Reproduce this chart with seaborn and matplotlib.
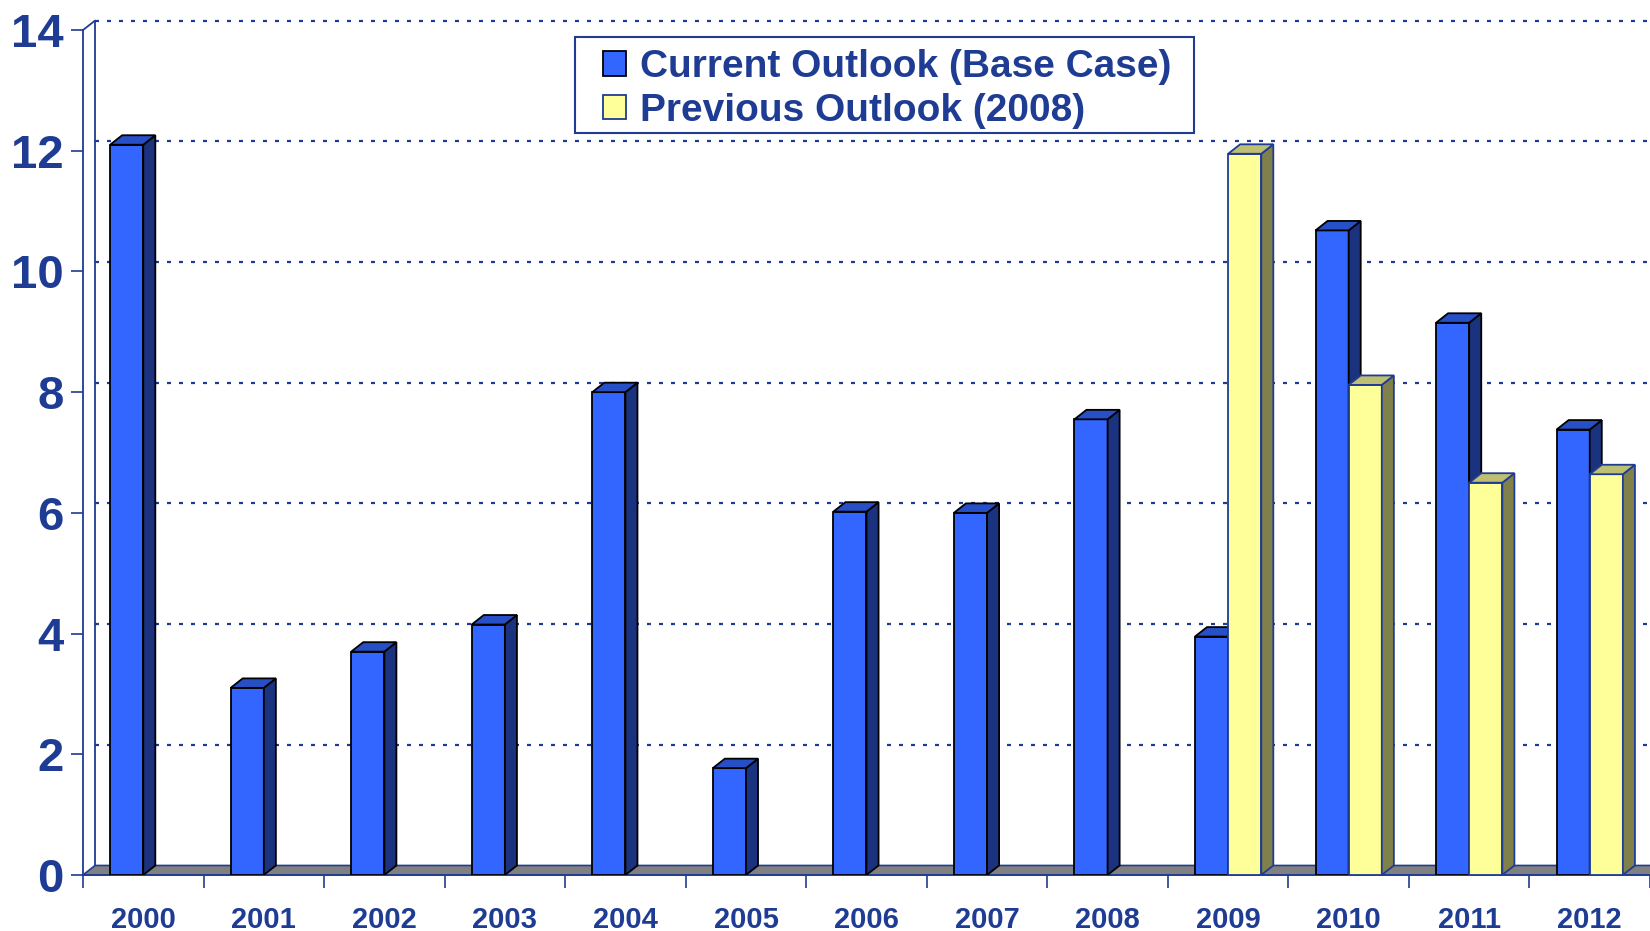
import pandas as pd
import matplotlib
matplotlib.use("Agg")
import matplotlib.pyplot as plt
import seaborn as sns
from matplotlib.patches import Polygon, Patch, Rectangle

# data
years = ['2000', '2001', '2002', '2003', '2004', '2005', '2006',
         '2007', '2008', '2009', '2010', '2011', '2012']
current = [12.1, 3.1, 3.7, 4.15, 8.0, 1.77, 6.02, 6.0, 7.55, 3.95, 10.68, 9.15, 7.38]
prev_years = ['2009', '2010', '2011', '2012']
previous = [11.95, 8.12, 6.5, 6.64]
series = ['Current Outlook (Base Case)', 'Previous Outlook (2008)']
yticks = [0, 2, 4, 6, 8, 10, 12, 14]

TXT = '#1F3C94'
face = {series[0]: '#3366FF', series[1]: '#FFFF99'}
side = {series[0]: '#1B327E', series[1]: '#80804A'}
top = {series[0]: '#2750C6', series[1]: '#BFBF72'}
edge = {series[0]: 'black', series[1]: TXT}


def main():
    df = pd.concat([
        pd.DataFrame({'year': years, 'series': series[0], 'value': current}),
        pd.DataFrame({'year': prev_years, 'series': series[1], 'value': previous}),
    ])

    sns.set_style('white')
    plt.rcParams['font.family'] = ['Liberation Sans', 'DejaVu Sans']
    plt.rcParams['font.weight'] = 'bold'

    fig = plt.figure(figsize=(16.5, 9.31), dpi=100)
    ax = fig.add_axes([0.0503, 0.0602, 0.9497, 0.9302])

    sns.barplot(data=df, x='year', y='value', hue='series', hue_order=series,
                order=years, palette=face, saturation=1, width=0.55, gap=0,
                errorbar=None, legend=False, ax=ax, zorder=3)

    ax.set_xlim(-0.5, 12.48)
    ax.set_ylim(0, 14.35)

    # depth of the fake 3D effect in data units
    dx, dy = 0.1, 0.157

    for k, cont in enumerate(ax.containers):
        s = series[k]
        z = 3 + 2 * k
        for p in cont:
            h = p.get_height()
            if pd.isna(h):
                continue
            x0, w = p.get_x(), p.get_width()
            p.set_edgecolor(edge[s])
            p.set_linewidth(1.3)
            p.set_zorder(z)
            sd = Polygon([(x0 + w, 0), (x0 + w, h), (x0 + w + dx, h + dy), (x0 + w + dx, dy)],
                         closed=True, facecolor=side[s], edgecolor=edge[s], lw=1.3, zorder=z)
            tp = Polygon([(x0, h), (x0 + w, h), (x0 + w + dx, h + dy), (x0 + dx, h + dy)],
                         closed=True, facecolor=top[s], edgecolor=edge[s], lw=1.3, zorder=z)
            ax.add_patch(sd)
            ax.add_patch(tp)

    # floor
    x_end = 13.0
    ax.add_patch(Polygon([(-0.5, 0), (x_end, 0), (x_end + dx, dy), (-0.5 + dx, dy)],
                         closed=True, facecolor='#808080', edgecolor=TXT, lw=1.2,
                         zorder=2, clip_on=False))
    # back wall and gridlines
    ax.plot([-0.5 + dx, -0.5 + dx], [dy, 14 + dy], color=TXT, lw=1.3, zorder=2)
    ax.plot([-0.5, -0.5 + dx], [14, 14 + dy], color=TXT, lw=1.3, zorder=2)
    for v in yticks[1:]:
        ax.plot([-0.5 + dx, x_end], [v + dy, v + dy], color=TXT, lw=1.6,
                linestyle=(0, (1.8, 3.6)), zorder=1)

    for sp in ['top', 'right']:
        ax.spines[sp].set_visible(False)
    for sp in ['left', 'bottom']:
        ax.spines[sp].set_color(TXT)
        ax.spines[sp].set_linewidth(1.3)
    ax.spines['left'].set_bounds(0, 14)

    ax.set_yticks(yticks)
    ax.set_yticklabels([str(v) for v in yticks], fontsize=34, fontweight='bold', color=TXT)
    ax.tick_params(axis='y', direction='out', length=9, width=1.2, color=TXT, pad=5, left=True)

    ax.set_xticks(range(len(years)))
    ax.set_xticklabels(years, fontsize=21, fontweight='bold', color=TXT)
    ax.set_xticks([i - 0.5 for i in range(len(years) + 1)], minor=True)
    ax.tick_params(axis='x', which='major', length=0, pad=22)
    ax.tick_params(axis='x', which='minor', direction='out', length=9.5, width=1.2,
                   color=TXT, bottom=True)
    ax.set_xlabel('')
    ax.set_ylabel('')

    # legend with hand-drawn box
    fig.patches.append(Rectangle((575 / 1650, 1 - 133 / 931), 619 / 1650, 96 / 931,
                                 transform=fig.transFigure, facecolor='white',
                                 edgecolor=TXT, lw=1.5, zorder=10))
    handles = [Patch(facecolor=face[s], edgecolor=edge[s], lw=1.3) for s in series]
    leg = fig.legend(handles, series, loc='upper left',
                     bbox_to_anchor=(603 / 1650, 1 - 49 / 931), frameon=False,
                     prop={'size': 28, 'weight': 'bold'}, handlelength=0.6,
                     handleheight=0.6, handletextpad=0.35, labelspacing=0.2,
                     borderpad=0, borderaxespad=0)
    leg.set_zorder(11)
    for t in leg.get_texts():
        t.set_color(TXT)

    plt.savefig('out.png', dpi=100)


if __name__ == '__main__':
    main()
